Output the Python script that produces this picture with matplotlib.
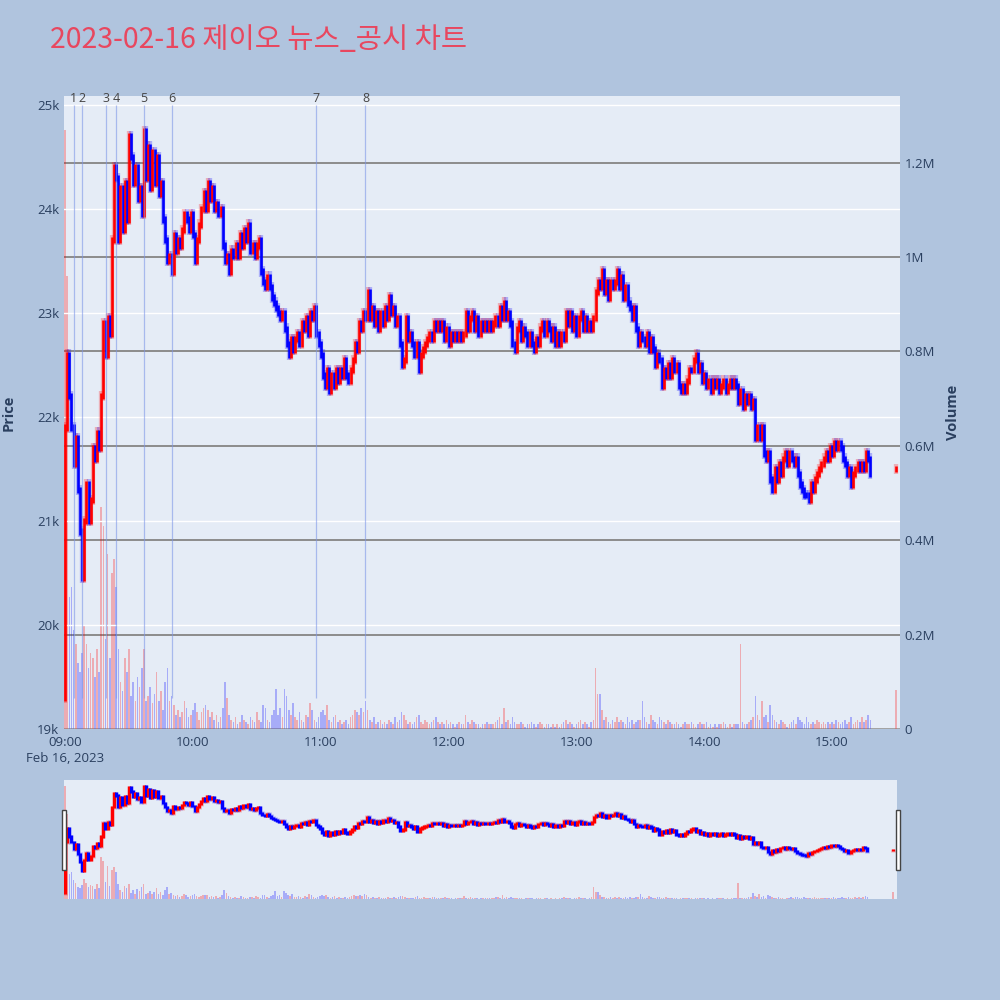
import matplotlib.pyplot as plt
import numpy as np
from matplotlib.patches import Rectangle

plt.rcParams['font.family'] = ['Open Sans', 'DejaVu Sans']

# 1분봉 종가, 09:00 부터 (원)
closes = [
    21900, 22600, 22200, 21900, 21550, 21800, 21300, 20900, 20450, 21000,
    21350, 21000, 21200, 21700, 21600, 21850, 21700, 22200, 22900, 22600,
    22950, 22800, 23700, 24400, 24300, 23700, 24200, 23800, 24250, 23900,
    24700, 24500, 24250, 24400, 24100, 24200, 23950, 24750, 24300, 24600,
    24200, 24550, 24250, 24500, 24150, 24250, 23900, 23700, 23500, 23550,
    23400, 23750, 23600, 23700, 23650, 23800, 23950, 23900, 23800, 23950,
    23750, 23500, 23700, 23850, 24000, 24150, 24000, 24250, 24100, 24200,
    24000, 24050, 23950, 24000, 23650, 23500, 23550, 23400, 23600, 23550,
    23650, 23550, 23750, 23650, 23800, 23700, 23850, 23600, 23650, 23550,
    23650, 23700, 23400, 23300, 23250, 23350, 23250, 23150, 23100, 23050,
    23000, 22950, 23000, 22850, 22700, 22600, 22750, 22650, 22750, 22800,
    22700, 22900, 22850, 22950, 22800, 23000, 22950, 23050, 22800, 22700,
    22600, 22400, 22300, 22450, 22250, 22400, 22300, 22450, 22350, 22450,
    22400, 22550, 22400, 22350, 22450, 22550, 22700, 22650, 22900, 22850,
    23000, 22950, 23200, 22950, 23050, 22900, 23000, 22850, 23000, 22900,
    23050, 22950, 23150, 23000, 23050, 22900, 22950, 22700, 22500, 22550,
    22950, 22750, 22800, 22700, 22600, 22700, 22450, 22600, 22650, 22700,
    22750, 22800, 22750, 22900, 22850, 22900, 22850, 22900, 22750, 22850,
    22700, 22800, 22750, 22800, 22750, 22800, 22750, 22800, 23000, 22850,
    22950, 23000, 22850, 22950, 22800, 22900, 22850, 22900, 22850, 22900,
    22850, 22900, 22950, 22900, 23050, 22950, 23100, 22950, 23000, 22900,
    22700, 22650, 22850, 22900, 22750, 22850, 22800, 22700, 22800, 22700,
    22650, 22750, 22700, 22850, 22900, 22800, 22900, 22850, 22750, 22850,
    22700, 22800, 22700, 22800, 22750, 23000, 22900, 23000, 22850, 22950,
    22800, 22950, 23000, 22850, 22950, 22850, 22900, 22850, 22950, 23200,
    23300, 23250, 23400, 23200, 23300, 23150, 23300, 23250, 23300, 23400,
    23250, 23350, 23150, 23250, 23100, 23050, 22950, 23050, 22850, 22700,
    22800, 22750, 22700, 22800, 22650, 22750, 22650, 22500, 22600, 22550,
    22300, 22450, 22400, 22500, 22400, 22550, 22450, 22500, 22300, 22250,
    22300, 22250, 22350, 22450, 22450, 22550, 22600, 22450, 22500, 22350,
    22400, 22300, 22350, 22250, 22350, 22300, 22350, 22250, 22300, 22350,
    22250, 22300, 22350, 22300, 22350, 22300, 22150, 22250, 22100, 22200,
    22150, 22200, 22100, 22150, 21800, 21900, 21800, 21900, 21650, 21600,
    21650, 21400, 21300, 21500, 21400, 21550, 21450, 21600, 21650, 21550,
    21650, 21600, 21550, 21600, 21450, 21350, 21300, 21250, 21250, 21200,
    21350, 21300, 21400, 21450, 21500, 21550, 21600, 21650, 21600, 21700,
    21650, 21750, 21700, 21750, 21700, 21600, 21550, 21450, 21500, 21350,
    21450, 21500, 21550, 21500, 21550, 21500, 21650, 21600, 21450,
]
first_open = 19300

# 거래량 (천 주)
volumes = [
    1270, 960, 280, 300, 210, 180, 140, 120, 160, 220,
    180, 130, 160, 150, 110, 170, 120, 470, 430, 190,
    370, 150, 330, 360, 300, 170, 100, 80, 150, 120,
    170, 70, 100, 60, 110, 90, 130, 170, 60, 70,
    90, 55, 75, 120, 60, 80, 40, 100, 130, 60,
    70, 50, 30, 40, 25, 35, 60, 45, 25, 30,
    40, 55, 35, 20, 35, 45, 50, 40, 25, 35,
    20, 30, 15, 25, 45, 100, 65, 30, 20, 15,
    25, 10, 15, 30, 20, 15, 10, 25, 20, 15,
    35, 20, 15, 50, 45, 20, 15, 30, 40, 85,
    30, 45, 25, 85, 70, 40, 30, 55, 25, 20,
    35, 20, 15, 30, 25, 55, 40, 20, 15, 25,
    35, 40, 30, 50, 20, 15, 25, 30, 15, 20,
    10, 15, 20, 10, 25, 30, 40, 35, 30, 45,
    35, 60, 40, 20, 15, 25, 10, 15, 20, 10,
    15, 10, 20, 15, 10, 25, 15, 20, 35, 30,
    20, 10, 15, 10, 15, 25, 30, 15, 10, 20,
    15, 10, 15, 20, 25, 15, 10, 15, 10, 20,
    10, 15, 10, 5, 10, 15, 10, 10, 30, 15,
    10, 20, 15, 10, 10, 5, 10, 10, 15, 10,
    10, 10, 15, 20, 25, 10, 45, 15, 20, 10,
    25, 15, 10, 10, 15, 10, 5, 10, 10, 15,
    10, 5, 10, 15, 10, 5, 10, 10, 5, 10,
    5, 10, 5, 10, 15, 20, 10, 15, 10, 5,
    10, 15, 20, 10, 15, 10, 5, 15, 20, 130,
    75, 75, 40, 20, 25, 15, 10, 20, 15, 25,
    15, 20, 15, 10, 25, 15, 20, 10, 15, 20,
    20, 60, 25, 15, 10, 30, 20, 15, 10, 25,
    20, 15, 10, 20, 15, 10, 10, 15, 10, 5,
    10, 15, 10, 10, 15, 10, 5, 10, 15, 10,
    10, 15, 5, 10, 5, 10, 5, 10, 10, 15,
    10, 5, 10, 5, 10, 10, 10, 180, 15, 10,
    10, 15, 20, 25, 70, 30, 20, 60, 25, 30,
    15, 50, 30, 20, 15, 10, 20, 15, 10, 5,
    10, 15, 20, 10, 25, 20, 15, 10, 25, 15,
    10, 15, 10, 20, 15, 10, 15, 10, 15, 10,
    15, 10, 20, 15, 10, 15, 20, 10, 15, 25,
    10, 15, 20, 15, 25, 15, 20, 30, 20,
]

# 장 마감 동시호가 (15:30)
close_end = 21500
vol_end = 83
end_minute = 390

# 뉴스/공시 시점 (09:00 이후 분)
event_minutes = [4, 8, 19, 24, 37, 50, 118, 141]
event_labels = ['1', '2', '3', '4', '5', '6', '7', '8']

hour_labels = ['09:00', '10:00', '11:00', '12:00', '13:00', '14:00', '15:00']

BG = '#B0C4DE'
PLOT_BG = '#E5ECF6'
TXT = '#2A3F5F'
UP = '#FF0000'
DOWN = '#0000FF'

minutes = np.arange(len(closes))
closes_a = np.array(closes)
opens_a = np.concatenate([[first_open], closes_a[:-1]])
vols_a = np.array(volumes) * 1000

x_all = np.append(minutes, end_minute)
o_all = np.append(opens_a, close_end)
c_all = np.append(closes_a, close_end)
v_all = np.append(vols_a, vol_end * 1000)
colors = np.where(c_all > o_all, UP, DOWN)
colors[-1] = UP

XLIM = (-0.5, 391.9)
PLIM = (19000, 25087)
VLIM = (0, 1.341e6)


def draw(ax, axv, body_lw, pad):
    axv.bar(x_all, v_all, width=0.75, color=colors, alpha=0.27, linewidth=0)
    lo = np.minimum(o_all, c_all) - pad
    hi = np.maximum(o_all, c_all) + pad
    # 테두리 번짐 + 몸통
    ax.vlines(x_all, lo - 20, hi + 20, colors=colors, linewidth=body_lw + 1.2, alpha=0.25)
    ax.vlines(x_all, lo, hi, colors=colors, linewidth=body_lw)


fig = plt.figure(figsize=(10, 10), dpi=100, facecolor=BG)

# 메인 차트
ax = fig.add_axes([0.064, 0.271, 0.836, 0.633])
axv = ax.twinx()
ax.set_zorder(axv.get_zorder() + 1)
ax.patch.set_visible(False)
axv.patch.set_visible(True)
axv.patch.set_facecolor(PLOT_BG)

for a in (ax, axv):
    for s in a.spines.values():
        s.set_visible(False)
    a.tick_params(length=0, labelsize=9.5, labelcolor=TXT)

axv.set_ylim(*VLIM)
axv.set_yticks([0, 0.2e6, 0.4e6, 0.6e6, 0.8e6, 1.0e6, 1.2e6])
axv.set_yticklabels(['0', '0.2M', '0.4M', '0.6M', '0.8M', '1M', '1.2M'])
axv.grid(axis='y', color='#8C8C8C', linewidth=1.4)
axv.set_axisbelow(True)
axv.set_ylabel('Volume', fontsize=10.5, fontweight='bold', color=TXT, labelpad=8)

ax.set_ylim(*PLIM)
ax.set_yticks([19000, 20000, 21000, 22000, 23000, 24000, 25000])
ax.set_yticklabels(['19k', '20k', '21k', '22k', '23k', '24k', '25k'])
ax.grid(axis='y', color='white', linewidth=1.0)
ax.set_axisbelow(True)
ax.set_ylabel('Price', fontsize=10.5, fontweight='bold', color=TXT, labelpad=15)
ax.set_xlim(*XLIM)
ax.set_xticks(np.arange(0, 361, 60))
ax.set_xticklabels(hour_labels)
ax.tick_params(axis='x', pad=5)

draw(ax, axv, 1.9, 30)

# 뉴스 시점 세로선
for m, lab in zip(event_minutes, event_labels):
    ax.vlines(m, 19300, 25000, color='#7F98E8', linewidth=0.9, alpha=0.6, zorder=3)
    ax.text(m, 25060, lab, ha='center', va='center', fontsize=9,
            color='#444444', zorder=4)

fig.text(0.065, 0.242, 'Feb 16, 2023', ha='center', va='center', fontsize=9.5, color=TXT)

# 레인지 슬라이더
rs = fig.add_axes([0.064, 0.101, 0.833, 0.119])
rsv = rs.twinx()
rs.set_zorder(rsv.get_zorder() + 1)
rs.patch.set_visible(False)
rsv.patch.set_visible(True)
rsv.patch.set_facecolor(PLOT_BG)
for a in (rs, rsv):
    for s in a.spines.values():
        s.set_visible(False)
    a.set_xticks([])
    a.set_yticks([])
rs.set_xlim(*XLIM)
rs.set_ylim(*PLIM)
rsv.set_ylim(*VLIM)
draw(rs, rsv, 2.2, 60)

for hx in (0.0615, 0.8955):
    fig.patches.append(Rectangle((hx, 0.13), 0.0045, 0.06, transform=fig.transFigure,
                                 facecolor='white', edgecolor='#444444', linewidth=1))

fig.text(0.05, 0.96, '2023-02-16 제이오 뉴스_공시 차트', fontsize=20.5, color='#E8475F',
         ha='left', va='center', family=['Noto Sans CJK KR', 'DejaVu Sans'])

fig.savefig('out.png', dpi=100, facecolor=BG)
